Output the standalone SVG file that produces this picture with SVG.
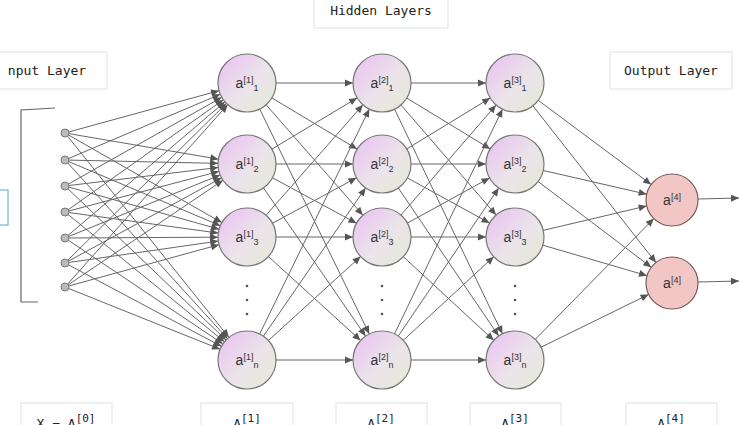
<svg xmlns="http://www.w3.org/2000/svg" width="739" height="425" viewBox="0 0 739 425">
<style>
.box{fill:#fff;stroke:#dde3e3;stroke-width:1}
.lbl{font-family:"DejaVu Sans Mono",monospace;font-size:13px;fill:#222}
.nt{font-family:"Liberation Sans",Arial,sans-serif;font-size:14px;fill:#333}
.nt tspan.s{font-size:9px}
.n{fill:url(#g);stroke:#777;stroke-width:1.2}
.o{fill:#f2c6c4;stroke:#7a5a5a;stroke-width:1.2}
#edges line{stroke:#666;stroke-width:1}
.e1{marker-end:url(#ah)}
.e2{marker-end:url(#ao)}
.dot{fill:#bbb;stroke:#777}
</style>
<defs>
<linearGradient id="g" x1="0" y1="0" x2="1" y2="1">
<stop offset="0" stop-color="#e9bff2"/><stop offset="0.55" stop-color="#ebe4ea"/><stop offset="1" stop-color="#e2ead4"/>
</linearGradient>
<marker id="ah" markerUnits="userSpaceOnUse" markerWidth="50" markerHeight="10" refX="37" refY="3.5" orient="auto" style="overflow:visible"><path d="M0,0 L8,3.5 L0,7 z" fill="#555"/></marker>
<marker id="ao" markerUnits="userSpaceOnUse" markerWidth="50" markerHeight="10" refX="34" refY="3.5" orient="auto" style="overflow:visible"><path d="M0,0 L8,3.5 L0,7 z" fill="#555"/></marker>
<marker id="ae" markerUnits="userSpaceOnUse" markerWidth="10" markerHeight="10" refX="8" refY="3.5" orient="auto"><path d="M0,0 L8,3.5 L0,7 z" fill="#555"/></marker>
</defs>
<rect width="739" height="425" fill="#fff"/>
<g id="labels">
<rect class="box" x="314" y="-2" width="134" height="30"/><text class="lbl" x="381" y="15" text-anchor="middle">Hidden Layers</text>
<rect class="box" x="-10" y="52" width="117" height="37"/><text class="lbl" x="47" y="75" text-anchor="middle">nput Layer</text>
<rect class="box" x="610" y="52" width="122" height="37"/><text class="lbl" x="671" y="75" text-anchor="middle">Output Layer</text>
<rect x="-10" y="190" width="18" height="35" fill="#fff" stroke="#5aa7b8"/>
<rect class="box" x="21" y="403" width="91" height="30"/><text class="lbl" x="66" y="428" text-anchor="middle" font-size="15">X = A<tspan dy="-6" font-size="11">[0]</tspan></text>
<rect class="box" x="201" y="403" width="92" height="30"/><text class="lbl" x="247" y="428" text-anchor="middle" font-size="15">A<tspan dy="-6" font-size="11">[1]</tspan></text>
<rect class="box" x="336" y="403" width="91" height="30"/><text class="lbl" x="381" y="428" text-anchor="middle" font-size="15">A<tspan dy="-6" font-size="11">[2]</tspan></text>
<rect class="box" x="470" y="403" width="91" height="30"/><text class="lbl" x="515" y="428" text-anchor="middle" font-size="15">A<tspan dy="-6" font-size="11">[3]</tspan></text>
<rect class="box" x="626" y="403" width="91" height="30"/><text class="lbl" x="671" y="428" text-anchor="middle" font-size="15">A<tspan dy="-6" font-size="11">[4]</tspan></text>
<path d="M55,108 L21,110 L21,302 L38,302" fill="none" stroke="#666" stroke-width="1.2"/>
</g>
<g id="edges">
<line class="e1" x1="65" y1="133" x2="247" y2="83"/><line class="e1" x1="65" y1="133" x2="247" y2="164"/><line class="e1" x1="65" y1="133" x2="247" y2="237"/><line class="e1" x1="65" y1="133" x2="247" y2="360"/>
<line class="e1" x1="65" y1="160" x2="247" y2="83"/><line class="e1" x1="65" y1="160" x2="247" y2="164"/><line class="e1" x1="65" y1="160" x2="247" y2="237"/><line class="e1" x1="65" y1="160" x2="247" y2="360"/>
<line class="e1" x1="65" y1="186" x2="247" y2="83"/><line class="e1" x1="65" y1="186" x2="247" y2="164"/><line class="e1" x1="65" y1="186" x2="247" y2="237"/><line class="e1" x1="65" y1="186" x2="247" y2="360"/>
<line class="e1" x1="65" y1="212" x2="247" y2="83"/><line class="e1" x1="65" y1="212" x2="247" y2="164"/><line class="e1" x1="65" y1="212" x2="247" y2="237"/><line class="e1" x1="65" y1="212" x2="247" y2="360"/>
<line class="e1" x1="65" y1="238" x2="247" y2="83"/><line class="e1" x1="65" y1="238" x2="247" y2="164"/><line class="e1" x1="65" y1="238" x2="247" y2="237"/><line class="e1" x1="65" y1="238" x2="247" y2="360"/>
<line class="e1" x1="65" y1="263" x2="247" y2="83"/><line class="e1" x1="65" y1="263" x2="247" y2="164"/><line class="e1" x1="65" y1="263" x2="247" y2="237"/><line class="e1" x1="65" y1="263" x2="247" y2="360"/>
<line class="e1" x1="65" y1="287" x2="247" y2="83"/><line class="e1" x1="65" y1="287" x2="247" y2="164"/><line class="e1" x1="65" y1="287" x2="247" y2="237"/><line class="e1" x1="65" y1="287" x2="247" y2="360"/>
<line class="e1" x1="247" y1="83" x2="382" y2="83"/><line class="e1" x1="247" y1="83" x2="382" y2="164"/><line class="e1" x1="247" y1="83" x2="382" y2="237"/><line class="e1" x1="247" y1="83" x2="382" y2="360"/>
<line class="e1" x1="247" y1="164" x2="382" y2="83"/><line class="e1" x1="247" y1="164" x2="382" y2="164"/><line class="e1" x1="247" y1="164" x2="382" y2="237"/><line class="e1" x1="247" y1="164" x2="382" y2="360"/>
<line class="e1" x1="247" y1="237" x2="382" y2="83"/><line class="e1" x1="247" y1="237" x2="382" y2="164"/><line class="e1" x1="247" y1="237" x2="382" y2="237"/><line class="e1" x1="247" y1="237" x2="382" y2="360"/>
<line class="e1" x1="247" y1="360" x2="382" y2="83"/><line class="e1" x1="247" y1="360" x2="382" y2="164"/><line class="e1" x1="247" y1="360" x2="382" y2="237"/><line class="e1" x1="247" y1="360" x2="382" y2="360"/>
<line class="e1" x1="382" y1="83" x2="515" y2="83"/><line class="e1" x1="382" y1="83" x2="515" y2="164"/><line class="e1" x1="382" y1="83" x2="515" y2="237"/><line class="e1" x1="382" y1="83" x2="515" y2="360"/>
<line class="e1" x1="382" y1="164" x2="515" y2="83"/><line class="e1" x1="382" y1="164" x2="515" y2="164"/><line class="e1" x1="382" y1="164" x2="515" y2="237"/><line class="e1" x1="382" y1="164" x2="515" y2="360"/>
<line class="e1" x1="382" y1="237" x2="515" y2="83"/><line class="e1" x1="382" y1="237" x2="515" y2="164"/><line class="e1" x1="382" y1="237" x2="515" y2="237"/><line class="e1" x1="382" y1="237" x2="515" y2="360"/>
<line class="e1" x1="382" y1="360" x2="515" y2="83"/><line class="e1" x1="382" y1="360" x2="515" y2="164"/><line class="e1" x1="382" y1="360" x2="515" y2="237"/><line class="e1" x1="382" y1="360" x2="515" y2="360"/>
<line class="e2" x1="515" y1="83" x2="672" y2="200"/><line class="e2" x1="515" y1="83" x2="672" y2="283"/>
<line class="e2" x1="515" y1="164" x2="672" y2="200"/><line class="e2" x1="515" y1="164" x2="672" y2="283"/>
<line class="e2" x1="515" y1="237" x2="672" y2="200"/><line class="e2" x1="515" y1="237" x2="672" y2="283"/>
<line class="e2" x1="515" y1="360" x2="672" y2="200"/><line class="e2" x1="515" y1="360" x2="672" y2="283"/>
<line x1="698" y1="199" x2="739" y2="198" marker-end="url(#ae)"/>
<line x1="698" y1="282" x2="739" y2="281" marker-end="url(#ae)"/>
</g>
<g id="inputs">
<circle class="dot" cx="65" cy="133" r="4"/><circle class="dot" cx="65" cy="160" r="4"/><circle class="dot" cx="65" cy="186" r="4"/><circle class="dot" cx="65" cy="212" r="4"/><circle class="dot" cx="65" cy="238" r="4"/><circle class="dot" cx="65" cy="263" r="4"/><circle class="dot" cx="65" cy="287" r="4"/>
</g>
<g id="n11"><circle class="n" cx="247" cy="83" r="29"/><text class="nt" x="247" y="88" text-anchor="middle">a<tspan class="s" dy="-5">[1]</tspan><tspan class="s" dy="8">1</tspan></text></g>
<g id="n12"><circle class="n" cx="247" cy="164" r="29"/><text class="nt" x="247" y="169" text-anchor="middle">a<tspan class="s" dy="-5">[1]</tspan><tspan class="s" dy="8">2</tspan></text></g>
<g id="n13"><circle class="n" cx="247" cy="237" r="29"/><text class="nt" x="247" y="242" text-anchor="middle">a<tspan class="s" dy="-5">[1]</tspan><tspan class="s" dy="8">3</tspan></text></g>
<g id="n1n"><circle class="n" cx="247" cy="360" r="29"/><text class="nt" x="247" y="365" text-anchor="middle">a<tspan class="s" dy="-5">[1]</tspan><tspan class="s" dy="8">n</tspan></text></g>
<g id="n21"><circle class="n" cx="382" cy="83" r="29"/><text class="nt" x="382" y="88" text-anchor="middle">a<tspan class="s" dy="-5">[2]</tspan><tspan class="s" dy="8">1</tspan></text></g>
<g id="n22"><circle class="n" cx="382" cy="164" r="29"/><text class="nt" x="382" y="169" text-anchor="middle">a<tspan class="s" dy="-5">[2]</tspan><tspan class="s" dy="8">2</tspan></text></g>
<g id="n23"><circle class="n" cx="382" cy="237" r="29"/><text class="nt" x="382" y="242" text-anchor="middle">a<tspan class="s" dy="-5">[2]</tspan><tspan class="s" dy="8">3</tspan></text></g>
<g id="n2n"><circle class="n" cx="382" cy="360" r="29"/><text class="nt" x="382" y="365" text-anchor="middle">a<tspan class="s" dy="-5">[2]</tspan><tspan class="s" dy="8">n</tspan></text></g>
<g id="n31"><circle class="n" cx="515" cy="83" r="29"/><text class="nt" x="515" y="88" text-anchor="middle">a<tspan class="s" dy="-5">[3]</tspan><tspan class="s" dy="8">1</tspan></text></g>
<g id="n32"><circle class="n" cx="515" cy="164" r="29"/><text class="nt" x="515" y="169" text-anchor="middle">a<tspan class="s" dy="-5">[3]</tspan><tspan class="s" dy="8">2</tspan></text></g>
<g id="n33"><circle class="n" cx="515" cy="237" r="29"/><text class="nt" x="515" y="242" text-anchor="middle">a<tspan class="s" dy="-5">[3]</tspan><tspan class="s" dy="8">3</tspan></text></g>
<g id="n3n"><circle class="n" cx="515" cy="360" r="29"/><text class="nt" x="515" y="365" text-anchor="middle">a<tspan class="s" dy="-5">[3]</tspan><tspan class="s" dy="8">n</tspan></text></g>
<g id="o1"><circle class="o" cx="672" cy="200" r="26"/><text class="nt" x="672" y="205" text-anchor="middle">a<tspan class="s" dy="-5">[4]</tspan></text></g>
<g id="o2"><circle class="o" cx="672" cy="283" r="26"/><text class="nt" x="672" y="288" text-anchor="middle">a<tspan class="s" dy="-5">[4]</tspan></text></g>
<g id="ellipses" fill="#555">
<circle cx="247" cy="286" r="1.3"/><circle cx="247" cy="300" r="1.3"/><circle cx="247" cy="314" r="1.3"/>
<circle cx="382" cy="286" r="1.3"/><circle cx="382" cy="300" r="1.3"/><circle cx="382" cy="314" r="1.3"/>
<circle cx="515" cy="286" r="1.3"/><circle cx="515" cy="300" r="1.3"/><circle cx="515" cy="314" r="1.3"/>
</g>
</svg>
